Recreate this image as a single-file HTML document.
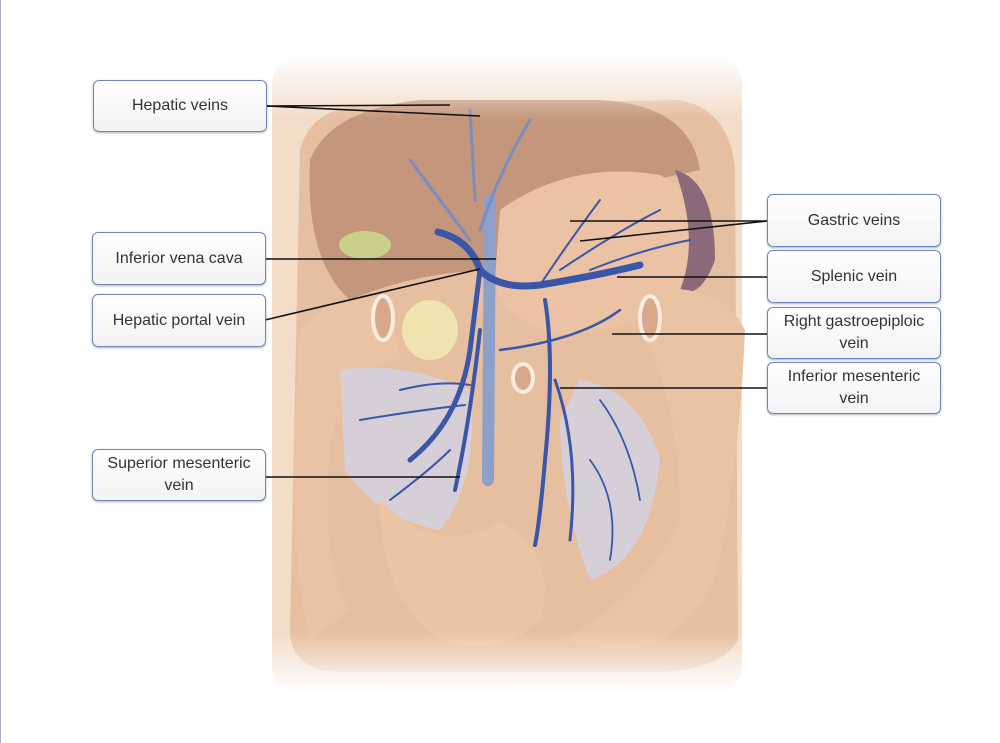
<!DOCTYPE html>
<html><head><style>
body{margin:0;width:1000px;height:743px;background:#fff;position:relative;overflow:hidden;font-family:"Liberation Sans",sans-serif;}
.b{position:absolute;width:174px;border:1.5px solid #6f86b8;border-radius:6px;background:linear-gradient(#fff,#f3f3f5);box-shadow:0 1px 2px rgba(0,0,0,.3);display:flex;align-items:center;justify-content:center;text-align:center;font-size:16px;color:#333;line-height:22px;box-sizing:border-box;}
</style></head><body>
<div style="position:absolute;left:0;top:0;width:1px;height:743px;background:#b8a8c8"></div>
<svg width="1000" height="743" style="position:absolute;left:0;top:0">
<defs>
<linearGradient id="fade" x1="0" y1="0" x2="0" y2="1"><stop offset="0" stop-color="#fff" stop-opacity="1"/><stop offset="0.1" stop-color="#fff" stop-opacity="0"/><stop offset="0.9" stop-color="#fff" stop-opacity="0"/><stop offset="1" stop-color="#fff" stop-opacity="1"/></linearGradient>
</defs>
<rect x="272" y="55" width="470" height="640" rx="30" fill="#f3dcc8"/>
<path d="M300 150 Q310 110 360 105 L680 100 Q730 110 735 170 L738 640 Q720 670 660 672 L340 672 Q290 670 290 630 Z" fill="#e6bea0"/>
<path d="M310 160 Q330 110 420 100 L600 100 Q690 105 700 170 L560 200 L500 270 Q420 270 350 300 Q305 260 310 160 Z" fill="#c4967c"/>
<path d="M500 210 Q570 160 660 175 Q710 200 700 270 Q660 330 560 335 Q500 320 495 280 Z" fill="#ebc3a4"/>
<path d="M675 170 Q715 180 715 260 Q700 300 680 290 Q700 240 675 170Z" fill="#8a6a78"/>
<ellipse cx="365" cy="245" rx="26" ry="14" fill="#c9d08a"/>
<path d="M300 330 Q330 290 390 300 L400 360 Q340 370 330 450 Q320 560 350 610 L310 640 Q290 560 295 420 Z" fill="#eac3a4"/>
<path d="M640 290 Q720 280 745 330 Q740 450 720 560 Q700 640 620 650 L560 640 Q640 600 680 520 Q680 400 640 330 Z" fill="#eac3a4"/>
<path d="M340 370 Q400 360 470 390 Q480 480 440 530 Q380 520 345 470 Z" fill="#d7cfd8"/>
<path d="M580 380 Q640 390 660 460 Q650 560 590 580 Q560 500 560 420 Z" fill="#d7cfd8"/>
<path d="M380 500 Q440 560 500 520 Q560 560 540 620 Q500 660 440 640 Q380 600 380 500Z" fill="#ebc4a6"/>
<ellipse cx="430" cy="330" rx="28" ry="30" fill="#efe3b0"/>
<ellipse cx="383" cy="318" rx="10" ry="22" fill="#d9a88a" stroke="#f8ede0" stroke-width="4"/>
<ellipse cx="650" cy="318" rx="10" ry="22" fill="#d9a88a" stroke="#f8ede0" stroke-width="4"/>
<ellipse cx="523" cy="378" rx="10" ry="14" fill="#d9a88a" stroke="#f8ede0" stroke-width="4"/>
<g fill="none" stroke="#3a56a8" stroke-linecap="round">
<path d="M490 200 L488 480" stroke="#8ea0c8" stroke-width="12"/>
<path d="M438 232 Q470 240 480 270 Q500 290 540 285 Q600 275 640 265" stroke-width="7"/>
<path d="M480 270 L470 350 Q460 420 410 460" stroke-width="5"/>
<path d="M480 330 Q470 420 455 490" stroke-width="4"/>
<path d="M545 300 Q555 360 545 460 Q540 520 535 545" stroke-width="4"/>
<path d="M555 380 Q580 450 570 540" stroke-width="3"/>
<path d="M540 285 Q570 240 600 200 M560 270 Q620 230 660 210 M590 270 Q640 250 690 240" stroke-width="2"/>
<path d="M500 350 Q580 340 620 310" stroke-width="2.5"/>
<path d="M400 390 Q440 380 470 385 M360 420 Q420 410 465 405 M390 500 Q430 470 450 450" stroke-width="2"/>
<path d="M600 400 Q630 440 640 500 M590 460 Q620 500 610 560" stroke-width="1.8"/>
<path d="M470 240 Q440 200 410 160 M480 230 Q500 170 530 120 M475 200 L470 110" stroke="#7a8cc0" stroke-width="3"/>
</g>
<rect x="272" y="55" width="470" height="640" fill="url(#fade)"/>
<g stroke="#111" stroke-width="1.6" fill="none">
<line x1="266" y1="106" x2="450" y2="105"/><line x1="266" y1="106" x2="480" y2="116"/>
<line x1="265" y1="259" x2="496" y2="259"/>
<line x1="265" y1="320" x2="480" y2="269"/>
<line x1="265" y1="477" x2="460" y2="477"/>
<line x1="767" y1="221" x2="570" y2="221"/><line x1="767" y1="221" x2="580" y2="241"/>
<line x1="767" y1="277" x2="617" y2="277"/>
<line x1="767" y1="334" x2="612" y2="334"/>
<line x1="767" y1="388" x2="560" y2="388"/>
</g>
</svg>
<div class="b" style="left:93px;top:80px;height:52px">Hepatic veins</div>
<div class="b" style="left:92px;top:232px;height:53px">Inferior vena cava</div>
<div class="b" style="left:92px;top:294px;height:53px">Hepatic portal vein</div>
<div class="b" style="left:92px;top:449px;height:52px">Superior mesenteric<br>vein</div>
<div class="b" style="left:767px;top:194px;height:53px">Gastric veins</div>
<div class="b" style="left:767px;top:250px;height:53px">Splenic vein</div>
<div class="b" style="left:767px;top:307px;height:52px">Right gastroepiploic<br>vein</div>
<div class="b" style="left:767px;top:362px;height:52px">Inferior mesenteric<br>vein</div>
</body></html>
